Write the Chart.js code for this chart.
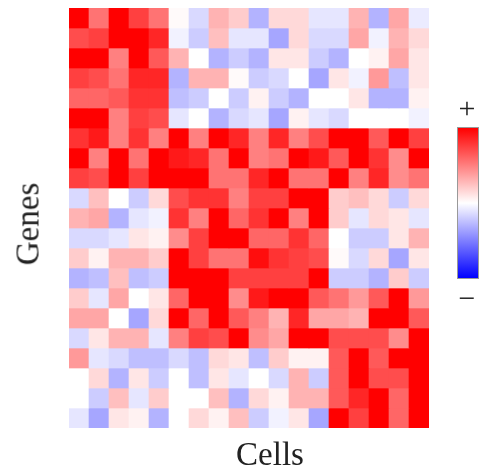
<!DOCTYPE html>
<html>
<head>
<meta charset="utf-8">
<script src="https://cdn.jsdelivr.net/npm/chart.js@4/dist/chart.umd.min.js"></script>
<style>
  body { margin: 0; background: #fff; }
  #wrap { position: relative; width: 480px; height: 470px; }
  .lbl { position: absolute; font-family: 'Liberation Serif', serif; color: #222; white-space: nowrap; }
</style>
</head>
<body>
<div id="wrap">
  <canvas id="heat" width="480" height="470"></canvas>
</div>
<script>
// columns = cells, rows = genes (top to bottom)
const cells = ['c1','c2','c3','c4','c5','c6','c7','c8','c9','c10','c11','c12','c13','c14','c15','c16','c17','c18'];
const genes = ['g1','g2','g3','g4','g5','g6','g7','g8','g9','g10','g11','g12','g13','g14','g15','g16','g17','g18','g19','g20','g21'];

// expression values in [-1, 1], one row per gene
const values = [
  [1.0, 0.55, 1.0, 0.75, 0.55, 0.02, -0.15, 0.3, 0.2, -0.3, 0.15, 0.15, -0.1, -0.1, 0.3, -0.3, 0.35, -0.08],
  [0.7, 0.75, 1.0, 1.0, 0.85, -0.05, -0.2, 0.25, -0.1, -0.1, -0.35, 0.15, -0.15, -0.15, 0.35, -0.05, 0.3, 0.15],
  [1.0, 1.0, 0.5, 1.0, 0.65, 0.3, 0.0, -0.3, -0.2, -0.3, 0.1, 0.1, -0.2, -0.3, 0.0, 0.05, 0.35, 0.1],
  [0.75, 0.7, 0.55, 0.85, 0.85, -0.3, 0.3, 0.3, 0.02, -0.2, -0.15, 0.0, -0.35, 0.1, -0.05, 0.4, -0.25, 0.1],
  [0.6, 0.6, 0.65, 0.8, 0.8, -0.25, -0.2, 0.0, -0.2, 0.05, -0.2, -0.3, 0.0, 0.0, 0.1, -0.3, -0.3, 0.05],
  [1.0, 1.0, 0.5, 0.75, 0.7, -0.1, 0.0, -0.3, -0.15, -0.1, -0.35, 0.05, -0.1, -0.15, 0.0, 0.0, 0.0, -0.05],
  [0.8, 0.9, 0.5, 0.8, 0.5, 1.0, 0.5, 1.0, 0.85, 0.5, 0.85, 0.5, 0.7, 1.0, 1.0, 0.65, 1.0, 0.75],
  [1.0, 0.5, 1.0, 0.55, 1.0, 0.9, 0.85, 0.55, 1.0, 0.5, 0.55, 1.0, 0.9, 0.65, 1.0, 0.8, 0.45, 1.0],
  [0.75, 0.7, 1.0, 0.75, 1.0, 1.0, 1.0, 0.55, 0.55, 0.85, 1.0, 0.55, 0.55, 1.0, 0.5, 0.85, 0.45, 0.55],
  [-0.15, 0.25, 0.0, -0.2, 0.15, 0.7, 0.8, 0.8, 0.5, 0.75, 0.75, 1.0, 1.0, 0.2, 0.25, 0.15, -0.2, 0.15],
  [0.3, 0.35, -0.3, -0.1, -0.05, 0.8, 0.5, 1.0, 0.6, 0.8, 1.0, 0.5, 1.0, 0.2, -0.1, 0.15, 0.1, -0.1],
  [-0.15, -0.15, -0.1, 0.1, 0.05, 0.45, 0.75, 1.0, 1.0, 0.6, 0.6, 0.8, 0.6, 0.0, -0.2, -0.2, 0.1, 0.3],
  [0.2, 0.05, 0.3, 0.3, 0.2, 1.0, 0.75, 0.55, 0.55, 0.95, 0.8, 0.75, 0.7, 0.02, -0.15, 0.15, -0.35, 0.1],
  [-0.3, -0.25, 0.25, -0.25, -0.2, 1.0, 1.0, 1.0, 0.75, 0.75, 0.75, 0.75, 1.0, -0.2, -0.2, -0.3, 0.2, -0.2],
  [0.2, -0.1, 0.35, 0.0, 0.1, 0.6, 1.0, 1.0, 0.45, 0.9, 1.0, 1.0, 0.65, 0.55, 0.4, 0.65, 1.0, 0.4],
  [0.35, 0.35, 0.0, -0.35, 0.15, 1.0, 0.6, 1.0, 0.65, 0.5, 0.3, 0.85, 0.35, 0.35, 0.3, 1.0, 1.0, 0.65],
  [-0.15, 0.1, 0.3, 0.3, -0.1, 0.5, 0.75, 0.7, 1.0, 0.45, 0.35, 1.0, 1.0, 0.7, 0.7, 0.7, 0.45, 1.0],
  [0.4, -0.1, -0.15, -0.25, -0.25, -0.15, -0.25, 0.15, 0.1, -0.25, 0.2, 0.05, 0.05, 0.65, 1.0, 0.65, 1.0, 1.0],
  [0.0, 0.15, -0.3, 0.1, -0.2, 0.0, -0.25, 0.1, -0.1, 0.0, -0.15, 0.3, -0.2, 0.65, 1.0, 0.7, 0.7, 1.0],
  [0.0, -0.2, 0.25, -0.1, 0.2, 0.0, 0.0, 0.25, -0.3, 0.15, 0.05, 0.3, 0.3, 0.65, 0.85, 1.0, 0.6, 1.0],
  [-0.1, -0.35, 0.1, 0.05, -0.3, 0.0, 0.15, 0.05, 0.25, -0.2, -0.05, 0.1, -0.35, 1.0, 0.75, 1.0, 0.6, 1.0]
];

const axisTitles = { x: 'Cells', y: 'Genes' };
const barTicks = { top: '+', bottom: '\u2212' };

// blue-white-red map
function bwr(v) {
  const t = Math.max(-1, Math.min(1, v));
  if (t >= 0) {
    const c = Math.round(255 * (1 - t));
    return `rgb(255,${c},${c})`;
  }
  const c = Math.round(255 * (1 + t));
  return `rgb(${c},${c},255)`;
}

// one floating-bar dataset per gene row
const nRows = genes.length;
const datasets = genes.map((g, i) => ({
  label: g,
  data: cells.map(() => [nRows - 1 - i, nRows - i]),
  backgroundColor: values[i].map(bwr),
  borderWidth: 0,
  barPercentage: 1,
  categoryPercentage: 1,
  grouped: false
}));

new Chart(document.getElementById('heat'), {
  type: 'bar',
  data: { labels: cells, datasets: datasets },
  options: {
    responsive: false,
    animation: false,
    layout: { padding: { left: 69, right: 51, top: 8, bottom: 42 } },
    plugins: { legend: { display: false }, tooltip: { enabled: false } },
    scales: {
      x: { display: false },
      y: { display: false, min: 0, max: nRows }
    }
  }
});

// labels and colour bar
const wrap = document.getElementById('wrap');
function addLabel(text, css) {
  const d = document.createElement('div');
  d.className = 'lbl';
  d.textContent = text;
  Object.assign(d.style, css);
  wrap.appendChild(d);
  return d;
}
addLabel(axisTitles.x, { left: '270px', top: '454px', fontSize: '33px', transform: 'translate(-50%,-50%)' });
addLabel(axisTitles.y, { left: '28px', top: '224px', fontSize: '33px', transform: 'translate(-50%,-50%) rotate(-90deg)' });
addLabel(barTicks.top, { left: '467px', top: '108px', fontSize: '30px', transform: 'translate(-50%,-50%)' });
addLabel(barTicks.bottom, { left: '467px', top: '298px', fontSize: '30px', transform: 'translate(-50%,-50%)' });

const bar = document.createElement('div');
Object.assign(bar.style, {
  position: 'absolute', left: '457px', top: '127px', width: '20px', height: '150px',
  border: '1px solid #999',
  background: `linear-gradient(to bottom, ${bwr(1)}, ${bwr(0)}, ${bwr(-1)})`
});
wrap.appendChild(bar);
</script>
</body>
</html>
